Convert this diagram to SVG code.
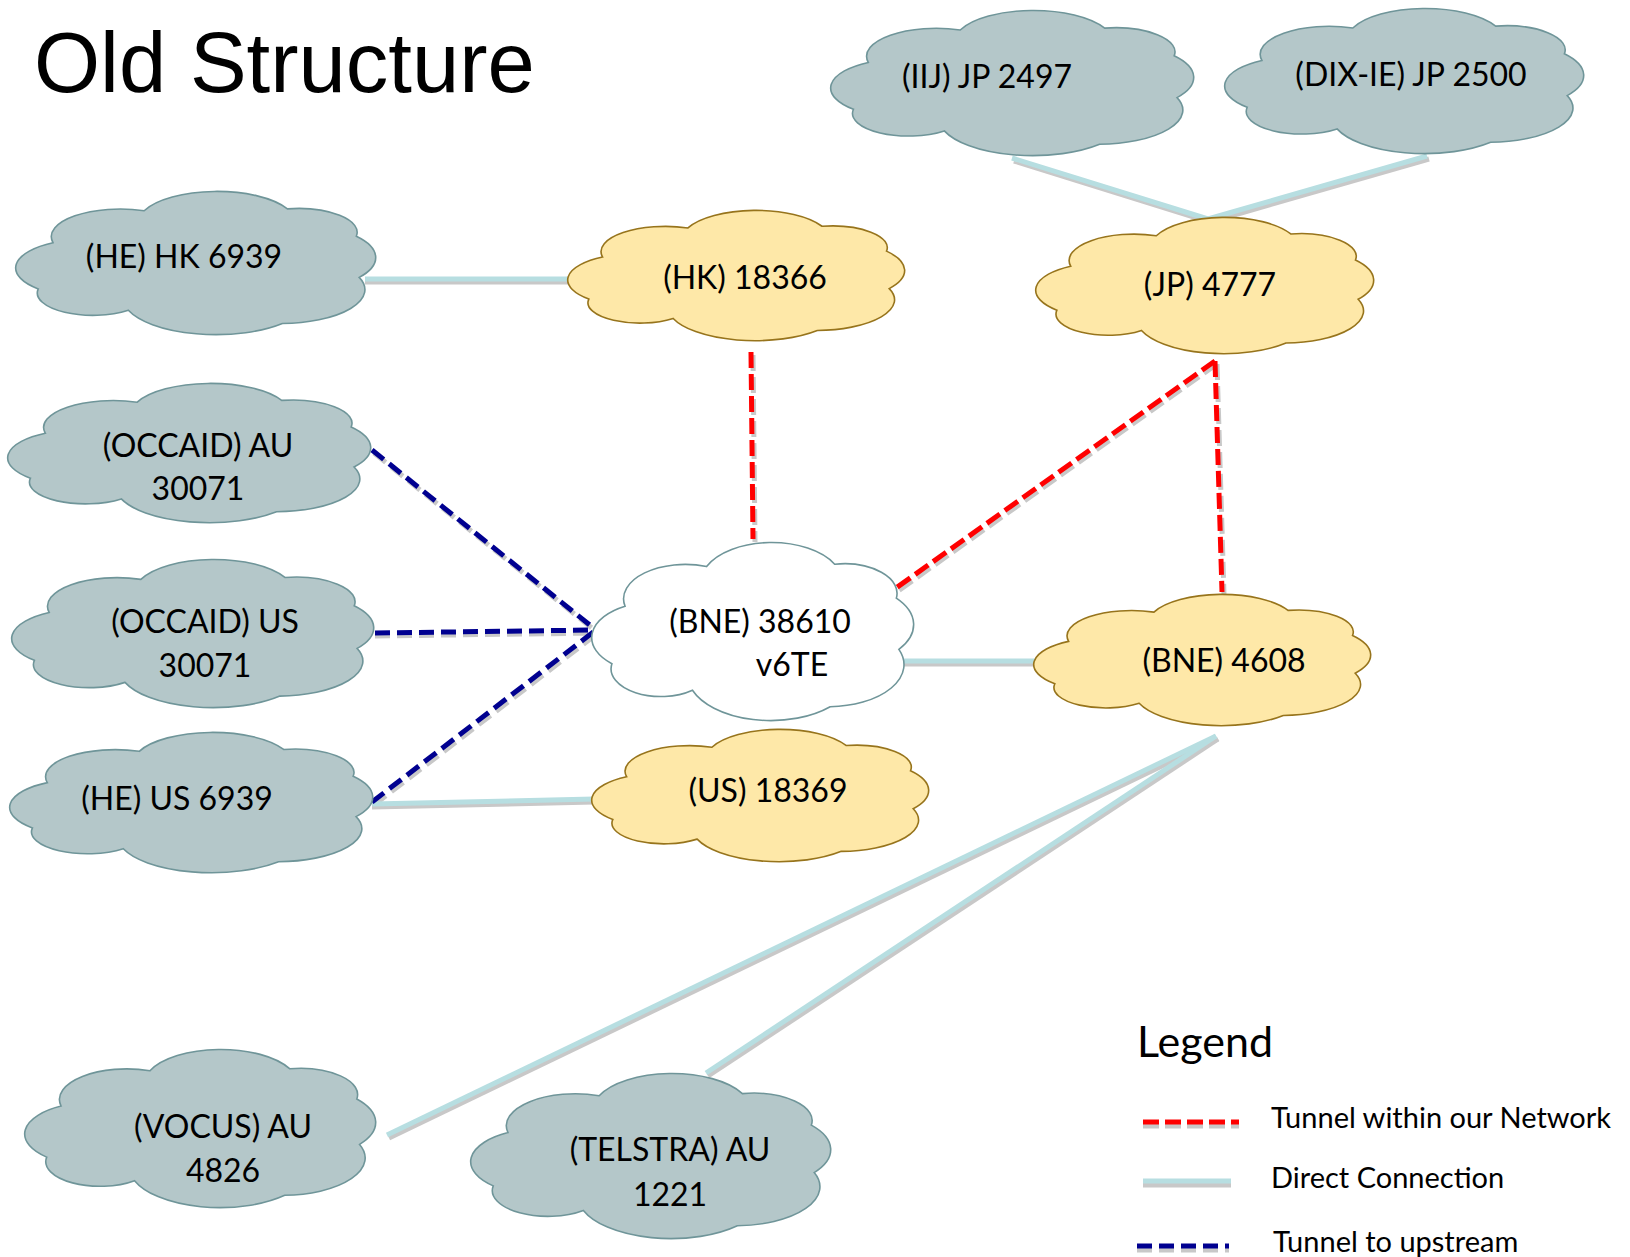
<svg xmlns="http://www.w3.org/2000/svg" xmlns:xlink="http://www.w3.org/1999/xlink" width="1630" height="1257" viewBox="0 0 1630 1257">
<style>
.title{font-family:"Liberation Sans",Arial,sans-serif;font-size:85px;fill:#000}
.lbl{font-family:Lato,"Open Sans",sans-serif;font-size:32px;fill:#000;text-anchor:middle}
.leg{font-family:Lato,"Open Sans",sans-serif;font-size:29px;fill:#000}
.legt{font-family:Lato,"Open Sans",sans-serif;font-size:43px;fill:#000}
.gray{fill:#B4C7C9;stroke:#6F9599;stroke-width:1.6}
.yel{fill:#FEE8A8;stroke:#97741C;stroke-width:1.6}
.wht{fill:#FFFFFF;stroke:#6F9599;stroke-width:1.6}
.dsh{stroke:#C8C8C8;stroke-width:5;fill:none}
.direct{stroke:#B7DEE1;stroke-width:5;fill:none}
.red{stroke:#FF0000;stroke-width:5;fill:none;stroke-dasharray:16 6}
.navy{stroke:#000090;stroke-width:5;fill:none;stroke-dasharray:15 7}
.tsh{stroke:#C8C8C8;stroke-width:5;fill:none}
</style>
<defs>
<path id="cloud" vector-effect="non-scaling-stroke" d="M10.3,35.9 A19.2 19.2 0 0 1 35.7,13.7 A22 22 0 0 1 75.6,12.4 A16.5 16.5 0 0 1 94.8,31.4 A23 23 0 0 1 95.6,60 A23.5 23.5 0 0 1 74.2,92 A26 26 0 0 1 31.3,82.8 A15.5 15.5 0 0 1 6.2,68 A20 20 0 0 1 10.3,35.9 Z"/>
</defs>
<rect width="1630" height="1257" fill="#FFFFFF"/>
<text class="title" x="34" y="92">Old Structure</text>

<g id="connectors">
  <g id="shadows">
    <line class="dsh" x1="1014" y1="161" x2="1210" y2="222"/>
    <line class="dsh" x1="1429" y1="159" x2="1210" y2="222"/>
    <line class="dsh" x1="365" y1="282" x2="570" y2="282"/>
    <line class="dsh" x1="904" y1="664" x2="1036" y2="664"/>
    <line class="dsh" x1="372" y1="807" x2="594" y2="802"/>
    <line class="dsh" x1="1218" y1="739" x2="389" y2="1138"/>
    <line class="dsh" x1="1218" y1="739" x2="708" y2="1076"/>
    <line class="tsh" style="stroke-dasharray:16 6" x1="753" y1="355" x2="755" y2="542"/>
    <line class="tsh" style="stroke-dasharray:16 6" x1="1217" y1="364" x2="898" y2="591"/>
    <line class="tsh" style="stroke-dasharray:16 6" x1="1217" y1="364" x2="1224" y2="595"/>
    <line class="tsh" style="stroke-dasharray:15 7" x1="374" y1="453" x2="598" y2="633"/>
    <line class="tsh" style="stroke-dasharray:15 7" x1="375" y1="636" x2="598" y2="633"/>
    <line class="tsh" style="stroke-dasharray:15 7" x1="374" y1="805" x2="598" y2="633"/>
  </g>
  <line id="e-iij-jp" class="direct" x1="1012" y1="158" x2="1208" y2="219"/>
  <line id="e-dix-jp" class="direct" x1="1427" y1="156" x2="1208" y2="219"/>
  <line id="e-hehk-hk" class="direct" x1="365" y1="279" x2="570" y2="279"/>
  <line id="e-v6te-bne" class="direct" x1="904" y1="661" x2="1036" y2="661"/>
  <line id="e-heus-us" class="direct" x1="372" y1="804" x2="594" y2="799"/>
  <line id="e-bne-vocus" class="direct" x1="1216" y1="736" x2="387" y2="1135"/>
  <line id="e-bne-telstra" class="direct" x1="1216" y1="736" x2="706" y2="1073"/>
  <line id="e-hk-v6te" class="red" x1="751" y1="352" x2="753" y2="539"/>
  <line id="e-jp-v6te" class="red" x1="1215" y1="361" x2="896" y2="588"/>
  <line id="e-jp-bne" class="red" x1="1215" y1="361" x2="1222" y2="592"/>
  <line id="e-occau-v6te" class="navy" x1="372" y1="450" x2="596" y2="630"/>
  <line id="e-occus-v6te" class="navy" x1="375" y1="633" x2="596" y2="630"/>
  <line id="e-heus-v6te" class="navy" x1="372" y1="802" x2="596" y2="630"/>
</g>

<g id="n-iij">
  <use xlink:href="#cloud" class="gray" transform="translate(831,10) scale(3.62,1.46)"/>
  <text class="lbl" x="987" y="88">(IIJ) JP 2497</text>
</g>
<g id="n-dixie">
  <use xlink:href="#cloud" class="gray" transform="translate(1225,8) scale(3.58,1.46)"/>
  <text class="lbl" x="1411" y="86">(DIX-IE) JP 2500</text>
</g>
<g id="n-hehk">
  <use xlink:href="#cloud" class="gray" transform="translate(16,191) scale(3.59,1.44)"/>
  <text class="lbl" x="184" y="268">(HE) HK 6939</text>
</g>
<g id="n-hk">
  <use xlink:href="#cloud" class="yel" transform="translate(568,210) scale(3.36,1.31)"/>
  <text class="lbl" x="745" y="289">(HK) 18366</text>
</g>
<g id="n-jp">
  <use xlink:href="#cloud" class="yel" transform="translate(1036,217) scale(3.37,1.37)"/>
  <text class="lbl" x="1210" y="296">(JP) 4777</text>
</g>
<g id="n-occau">
  <use xlink:href="#cloud" class="gray" transform="translate(8,383) scale(3.62,1.40)"/>
  <text class="lbl" x="198" y="457">(OCCAID) AU</text>
  <text class="lbl" x="198" y="500">30071</text>
</g>
<g id="n-occus">
  <use xlink:href="#cloud" class="gray" transform="translate(12,559) scale(3.61,1.49)"/>
  <text class="lbl" x="205" y="633">(OCCAID) US</text>
  <text class="lbl" x="205" y="677">30071</text>
</g>
<g id="n-v6te">
  <use xlink:href="#cloud" class="wht" transform="translate(592,542) scale(3.21,1.79)"/>
  <text class="lbl" x="760" y="633">(BNE) 38610</text>
  <text class="lbl" x="792" y="676">v6TE</text>
</g>
<g id="n-bne">
  <use xlink:href="#cloud" class="yel" transform="translate(1034,594) scale(3.36,1.32)"/>
  <text class="lbl" x="1224" y="672">(BNE) 4608</text>
</g>
<g id="n-heus">
  <use xlink:href="#cloud" class="gray" transform="translate(10,732) scale(3.62,1.41)"/>
  <text class="lbl" x="177" y="810">(HE) US 6939</text>
</g>
<g id="n-us">
  <use xlink:href="#cloud" class="yel" transform="translate(592,729) scale(3.36,1.33)"/>
  <text class="lbl" x="768" y="802">(US) 18369</text>
</g>
<g id="n-vocus">
  <use xlink:href="#cloud" class="gray" transform="translate(25,1049) scale(3.50,1.59)"/>
  <text class="lbl" x="223" y="1138">(VOCUS) AU</text>
  <text class="lbl" x="223" y="1182">4826</text>
</g>
<g id="n-telstra">
  <use xlink:href="#cloud" class="gray" transform="translate(471,1073) scale(3.59,1.66)"/>
  <text class="lbl" x="670" y="1161">(TELSTRA) AU</text>
  <text class="lbl" x="670" y="1206">1221</text>
</g>

<g id="legend">
  <text class="legt" x="1137" y="1057">Legend</text>
  <line class="tsh" style="stroke-dasharray:16 6" x1="1143" y1="1126" x2="1239" y2="1126"/>
  <line class="red" x1="1143" y1="1122" x2="1239" y2="1122"/>
  <text class="leg" x="1271" y="1128">Tunnel within our Network</text>
  <line class="dsh" x1="1143" y1="1185" x2="1231" y2="1185"/>
  <line class="direct" x1="1143" y1="1181" x2="1231" y2="1181"/>
  <text class="leg" x="1271" y="1188">Direct Connection</text>
  <line class="tsh" style="stroke-dasharray:15 7" x1="1137" y1="1250" x2="1229" y2="1250"/>
  <line class="navy" x1="1137" y1="1246" x2="1229" y2="1246"/>
  <text class="leg" x="1273" y="1252">Tunnel to upstream</text>
</g>
</svg>
